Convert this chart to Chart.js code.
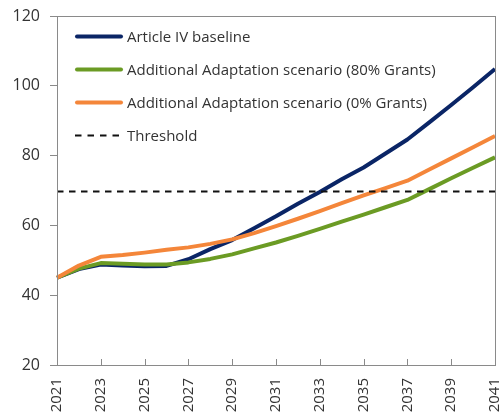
<!DOCTYPE html>
<html>
<head>
<meta charset="utf-8">
<script src="https://cdn.jsdelivr.net/npm/chart.js@4/dist/chart.umd.min.js"></script>
<style>
  html, body { margin: 0; padding: 0; background: #fff; }
</style>
</head>
<body>
<canvas id="debtChart" width="501" height="416"></canvas>
<script>
const years = ['2021', '2022', '2023', '2024', '2025', '2026', '2027', '2028', '2029', '2030', '2031',
  '2032', '2033', '2034', '2035', '2036', '2037', '2038', '2039', '2040', '2041'];
const baseline = [45, 47.5, 48.8, 48.5, 48.3, 48.4, 50.3, 53.2, 55.8, 59.2, 62.6,
  66.2, 69.6, 73.2, 76.6, 80.6, 84.6, 89.5, 94.5, 99.6, 104.8];
const grants80 = [45, 47.6, 49.2, 49.0, 48.8, 48.8, 49.4, 50.4, 51.7, 53.4, 55.1,
  57.0, 59.0, 61.1, 63.1, 65.2, 67.3, 70.4, 73.5, 76.5, 79.5];
const grants0 = [45, 48.5, 51, 51.5, 52.2, 53, 53.7, 54.7, 56, 57.8, 59.8,
  61.9, 64.1, 66.4, 68.6, 70.7, 72.8, 76.0, 79.2, 82.4, 85.6];
const threshold = 70;
const seriesNames = ['Article IV baseline', 'Additional Adaptation scenario (80% Grants)',
  'Additional Adaptation scenario (0% Grants)', 'Threshold'];

const NAVY = '#0a2566';
const GREEN = '#6b9b24';
const ORANGE = '#f4863a';
const FRAME = '#8a8a8a';
const FONT = "'Open Sans', 'Noto Sans', sans-serif";

// frame, inward x ticks, threshold line and the legend inside the plot
const framePlugin = {
  id: 'frame',
  afterDatasetsDraw(chart) {
    const { ctx, chartArea: a, scales: { y } } = chart;
    const ty = Math.round(y.getPixelForValue(threshold)) + 0.5;
    ctx.save();
    ctx.strokeStyle = '#111';
    ctx.lineWidth = 2;
    ctx.setLineDash([6.5, 5.5]);
    ctx.beginPath();
    ctx.moveTo(a.left, ty);
    ctx.lineTo(a.right, ty);
    ctx.stroke();
    ctx.restore();
  },
  afterDraw(chart) {
    const { ctx, chartArea: a, scales: { x } } = chart;
    ctx.save();
    ctx.strokeStyle = FRAME;
    ctx.lineWidth = 1;
    ctx.strokeRect(Math.round(a.left) + 0.5, Math.round(a.top) + 0.5,
      Math.round(a.right - a.left), Math.round(a.bottom - a.top));
    ctx.beginPath();
    years.forEach((yr, i) => {
      if (i % 2 !== 0 || i === 0 || i === years.length - 1) return;
      const px = Math.round(x.getPixelForValue(i)) + 0.5;
      ctx.moveTo(px, a.bottom);
      ctx.lineTo(px, a.bottom - 6);
    });
    ctx.stroke();

    // legend
    ctx.font = '15px ' + FONT;
    ctx.fillStyle = '#333';
    ctx.textBaseline = 'middle';
    const styles = chart.data.datasets.map(d => d.borderColor).concat(['#111']);
    seriesNames.forEach((name, i) => {
      const ly = Math.round(a.top + 20 + i * 33) + 0.5;
      ctx.beginPath();
      if (i === 3) {
        ctx.lineWidth = 2;
        ctx.lineCap = 'butt';
        ctx.setLineDash([6.5, 6]);
        ctx.moveTo(a.left + 18, ly);
        ctx.lineTo(a.left + 67, ly);
      } else {
        ctx.lineWidth = 4;
        ctx.setLineDash([]);
        ctx.lineCap = 'round';
        ctx.moveTo(a.left + 20, ly);
        ctx.lineTo(a.left + 64, ly);
      }
      ctx.strokeStyle = styles[i];
      ctx.stroke();
      ctx.fillText(name, a.left + 70, ly + 1);
    });
    ctx.restore();
  }
};

const lineSet = (label, data, color, order) => ({
  label, data, borderColor: color, backgroundColor: color,
  borderWidth: 4, pointRadius: 0, tension: 0, borderJoinStyle: 'round', fill: false, order
});

new Chart(document.getElementById('debtChart'), {
  type: 'line',
  data: {
    labels: years,
    datasets: [
      lineSet(seriesNames[0], baseline, NAVY, 3),
      lineSet(seriesNames[1], grants80, GREEN, 2),
      lineSet(seriesNames[2], grants0, ORANGE, 1)
    ]
  },
  options: {
    responsive: false,
    animation: false,
    layout: { padding: { left: 0, top: 0, right: 6, bottom: 0 } },
    plugins: { legend: { display: false }, tooltip: { enabled: false } },
    scales: {
      x: {
        type: 'category',
        offset: false,
        grid: { display: false, drawTicks: false },
        border: { display: false },
        ticks: {
          autoSkip: false,
          maxRotation: 90,
          minRotation: 90,
          padding: 13,
          color: '#333',
          font: { family: FONT, size: 15 },
          callback(v, i) { return i % 2 === 0 ? years[i] : null; }
        },
        afterFit(scale) { scale.height = 51; scale.paddingRight = 0; scale.paddingLeft = 0; }
      },
      y: {
        min: 20,
        max: 120,
        grid: { drawOnChartArea: false, drawTicks: true, tickLength: 7, color: FRAME },
        border: { display: false },
        ticks: {
          stepSize: 20,
          padding: 10,
          color: '#333',
          font: { family: FONT, size: 16 }
        },
        afterFit(scale) { scale.width = 57; scale.paddingTop = 16; scale.paddingBottom = 0; }
      }
    }
  },
  plugins: [framePlugin]
});
</script>
</body>
</html>
